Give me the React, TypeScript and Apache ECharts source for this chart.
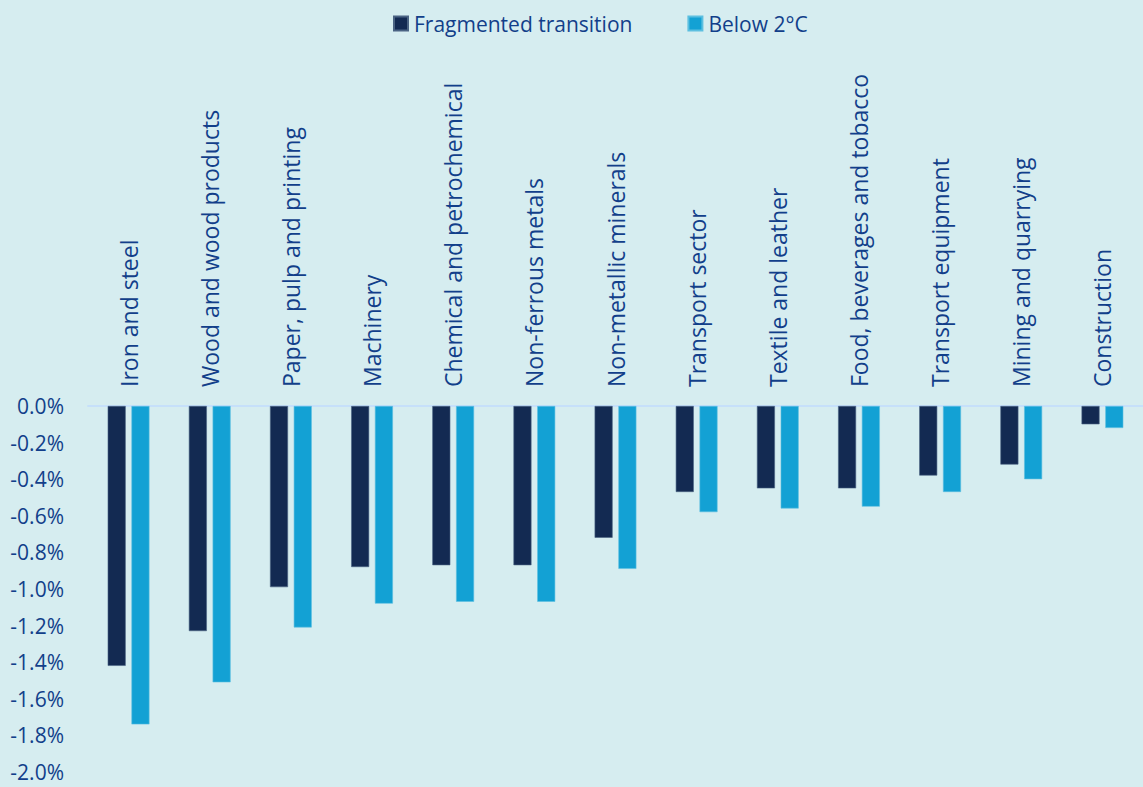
import React, { useEffect, useRef } from "react";
import * as echarts from "echarts";

const categories = [
  "Iron and steel",
  "Wood and wood products",
  "Paper, pulp and printing",
  "Machinery",
  "Chemical and petrochemical",
  "Non-ferrous metals",
  "Non-metallic minerals",
  "Transport sector",
  "Textile and leather",
  "Food, beverages and tobacco",
  "Transport equipment",
  "Mining and quarrying",
  "Construction",
];

const fragmented = [-1.42, -1.23, -0.99, -0.88, -0.87, -0.87, -0.72, -0.47, -0.45, -0.45, -0.38, -0.32, -0.1];
const below2 = [-1.74, -1.51, -1.21, -1.08, -1.07, -1.07, -0.89, -0.58, -0.56, -0.55, -0.47, -0.4, -0.12];

const seriesNames = ["Fragmented transition", "Below 2°C"];

const TEXT = "#123f8a";
const FONT = "'Open Sans', 'Noto Sans', sans-serif";

export default function App() {
  const ref = useRef<HTMLDivElement>(null);
  useEffect(() => {
    if (!ref.current) return;
    const chart = echarts.init(ref.current, undefined, { renderer: "svg" });
    chart.setOption({
      animation: false,
      backgroundColor: "#d6edf0",
      textStyle: { fontFamily: FONT },
      legend: {
        top: 13,
        left: 393,
        padding: 0,
        itemWidth: 14,
        itemHeight: 14,
        itemGap: 55,
        icon: "rect",
        textStyle: { color: TEXT, fontSize: 21, fontFamily: FONT, padding: [0, 0, 0, 1] },
        data: seriesNames,
      },
      grid: { left: 88, right: 0, top: 406, bottom: 15, containLabel: false },
      xAxis: {
        type: "category",
        position: "top",
        data: categories,
        axisLine: { show: true, lineStyle: { color: "#c6e0fa", width: 2 } },
        axisTick: { show: false },
        axisLabel: {
          rotate: 90,
          margin: 19,
          interval: 0,
          color: TEXT,
          fontSize: 23,
          fontFamily: FONT,
        },
      },
      yAxis: {
        type: "value",
        min: -2,
        max: 0,
        interval: 0.2,
        axisLine: { show: false },
        axisTick: { show: false },
        splitLine: { show: false },
        axisLabel: {
          margin: 24,
          color: TEXT,
          fontSize: 21,
          lineHeight: 18,
          fontFamily: FONT,
          formatter: (v: number) => `${v.toFixed(1)}%`,
        },
      },
      series: [
        {
          name: seriesNames[0],
          type: "bar",
          data: fragmented,
          barWidth: 18,
          barGap: "32%",
          itemStyle: { color: "#132a52", borderColor: "#4a6383", borderWidth: 0.6 },
        },
        {
          name: seriesNames[1],
          type: "bar",
          data: below2,
          barWidth: 18,
          itemStyle: { color: "#13a1d4", borderColor: "#5cbfe0", borderWidth: 0.6 },
        },
      ],
    });
    return () => chart.dispose();
  }, []);
  return <div ref={ref} style={{ position: "fixed", left: 0, top: 0, width: 1143, height: 787 }} />;
}
